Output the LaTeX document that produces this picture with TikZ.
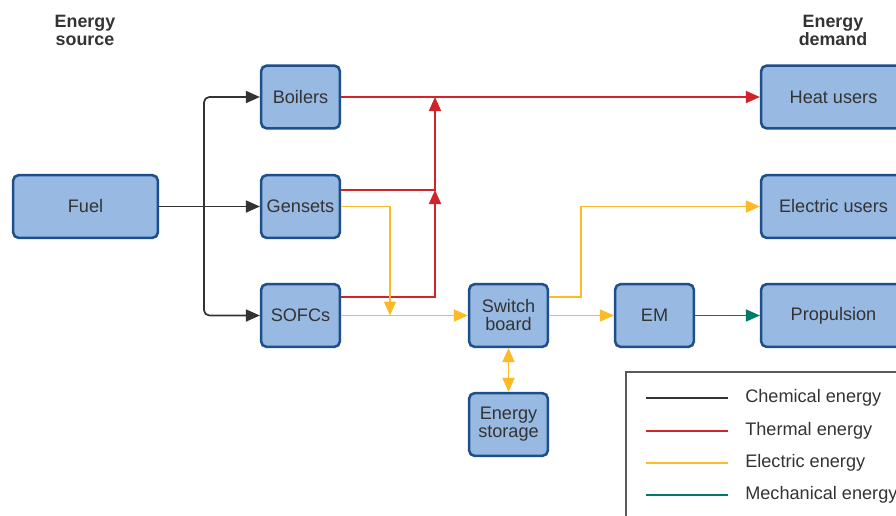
\documentclass[tikz,border=0pt]{standalone}
\usepackage{fontspec}
\setmainfont{Liberation Sans}
\usetikzlibrary{arrows.meta}
\definecolor{boxfill}{HTML}{97B9E2}
\definecolor{boxdraw}{HTML}{1D4F8C}
\definecolor{txt}{HTML}{333333}
\definecolor{chemcol}{HTML}{333333}
\definecolor{thermcol}{HTML}{D2232A}
\definecolor{eleccol}{HTML}{FBBA26}
\definecolor{mechcol}{HTML}{00796B}
\definecolor{legcol}{HTML}{5A5A5A}
\begin{document}
\begin{tikzpicture}[x=0.75pt,y=-0.75pt,
  box/.style={draw=boxdraw, fill=boxfill, line width=1.9pt, rounded corners=4pt, text=txt,
    font=\fontsize{13.6}{13.5}\selectfont, align=center, minimum height=47pt, inner sep=0pt},
  small/.style={box, minimum width=59pt},
  wide/.style={box, minimum width=108.5pt},
  header/.style={font=\bfseries\fontsize{13.4}{13.5}\selectfont, text=txt, align=center, inner sep=0pt},
  tip/.style={-{Triangle[length=10.5pt,width=9pt]}},
  conn/.style={line width=1.3pt, tip},
  chemc/.style={conn, draw=chemcol},
  thermc/.style={conn, draw=thermcol},
  elecc/.style={conn, draw=eleccol},
  mechc/.style={conn, draw=mechcol},
  legline/.style={line width=1.2pt},
  legtext/.style={anchor=west, text=txt, font=\fontsize{13.6}{13.5}\selectfont, inner sep=0pt}
]
\useasboundingbox (0,0) rectangle (896,515);
\clip (0,0) rectangle (896,515);

% headers
\node[header] (hsrc) at (85,30) {Energy\\source};
\node[header] (hdem) at (833,30) {Energy\\demand};

% boxes
\node[wide] (fuel) at (85.5,206.5) {Fuel};
\node[small] (boil) at (300.5,97) {Boilers};
\node[small] (gen) at (300.5,206.5) {Gensets};
\node[small] (sofc) at (300.5,315.5) {SOFCs};
\node[small] (sw) at (508.5,315.5) {Switch\\board};
\node[small] (es) at (508.5,424.5) {Energy\\storage};
\node[small] (em) at (654.5,315.5) {EM};
\node[wide] (heat) at (833.5,97) {Heat users};
\node[wide] (elec) at (833.5,206.5) {Electric users};
\node[wide] (prop) at (833.5,315.5) {Propulsion};

% chemical
\coordinate (cj) at (204,206.5);
\draw[chemc] (fuel.east) -- (gen.west);
\draw[chemc, rounded corners=4pt] (cj) |- (boil.west);
\draw[chemc, rounded corners=4pt] (cj) |- (sofc.west);

% thermal
\coordinate (r1) at (435,97);
\coordinate (r2) at (435,190);
\coordinate (r3) at (435,297);
\draw[thermc] (boil.east) -- (heat.west);
\draw[thermc] (gen.east |- r2) -- (r2) -- (r1);
\draw[thermc] (sofc.east |- r3) -- (r3) -- (r2);

% electric
\coordinate (y1) at (390,206.5);
\coordinate (y2) at (390,315.5);
\coordinate (y3) at (581,297);
\coordinate (y4) at (581,206.5);
\draw[elecc] (gen.east) -- (y1) -- (y2);
\draw[elecc] (sofc.east) -- (sw.west);
\draw[elecc] (sw.east |- y3) -- (y3) -- (y4) -- (elec.west);
\draw[elecc] (sw.east) -- (em.west);
\draw[elecc, {Triangle[length=10.5pt,width=9pt]}-{Triangle[length=10.5pt,width=9pt]}] (sw.south) -- (es.north);

% mechanical
\draw[mechc] (em.east) -- (prop.west);

% legend
\draw[draw=legcol, line width=1.6pt] (626,372) rectangle (930,540);
\draw[legline, draw=chemcol] (646,398) -- (728,398);
\node[legtext] (l1) at (745,398) {Chemical energy};
\draw[legline, draw=thermcol] (646,431) -- (728,431);
\node[legtext] (l2) at (745,431) {Thermal energy};
\draw[legline, draw=eleccol] (646,463) -- (728,463);
\node[legtext] (l3) at (745,463) {Electric energy};
\draw[legline, draw=mechcol] (646,495) -- (728,495);
\node[legtext] (l4) at (745,495) {Mechanical energy};
\end{tikzpicture}
\end{document}
